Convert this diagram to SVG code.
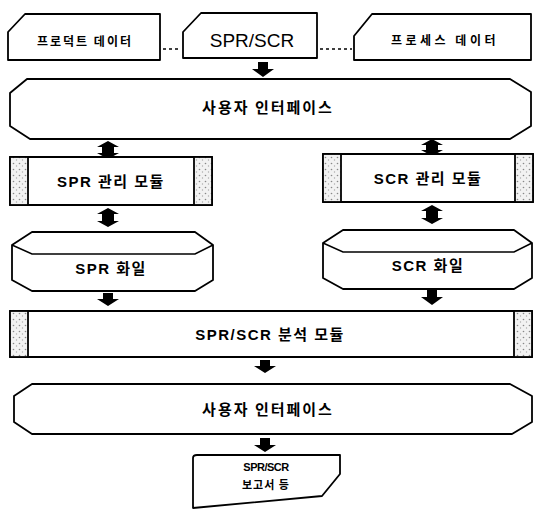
<svg xmlns="http://www.w3.org/2000/svg" width="539" height="510" viewBox="0 0 539 510">
<defs>
<pattern id="hatch" width="6" height="6" patternUnits="userSpaceOnUse">
<rect width="6" height="6" fill="#f2f2f2"/>
<circle cx="1.5" cy="1.5" r="0.8" fill="#888"/>
<circle cx="4.5" cy="4" r="0.7" fill="#aaa"/>
</pattern>
</defs>
<style>
.box{fill:#fff;stroke:#000;stroke-width:1.8;stroke-linejoin:round}
.panel{fill:url(#hatch);stroke:#000;stroke-width:1.8}
.ln{fill:none;stroke:#000;stroke-width:1.5}
.dash{fill:none;stroke:#000;stroke-width:1.3;stroke-dasharray:3 3}
.arr{fill:#000;stroke:none}
.t{font-family:"Liberation Sans","Noto Sans CJK KR",sans-serif;font-weight:bold;fill:#000;text-anchor:middle}
.k{font-family:"Noto Sans CJK KR","Liberation Sans",sans-serif;font-weight:bold;fill:#000;text-anchor:middle}
</style>
<rect width="539" height="510" fill="#fff"/>

<g id="connectors">
<line class="dash" x1="163" y1="49" x2="181" y2="49"/>
<line class="dash" x1="320" y1="49" x2="352" y2="49"/>
<path class="arr" d="M258,62 h10 v7 h6 l-11,8 l-11,-8 h6 z"/>
<path class="arr" d="M108,141 l11,6 h-5 v6 h5 l-11,6 l-11,-6 h5 v-6 h-5 z"/>
<path class="arr" d="M432,139 l11,6 h-5 v5 h5 l-11,6 l-11,-6 h5 v-5 h-5 z"/>
<path class="arr" d="M108,208 l11,6 h-5 v7 h5 l-11,6 l-11,-6 h5 v-7 h-5 z"/>
<path class="arr" d="M432,205 l11,6 h-5 v7 h5 l-11,6 l-11,-6 h5 v-7 h-5 z"/>
<path class="arr" d="M103,293 h10 v6 h6 l-11,7 l-11,-7 h6 z"/>
<path class="arr" d="M427,290 h10 v7 h6 l-11,8 l-11,-8 h6 z"/>
<path class="arr" d="M260,360 h10 v6 h6 l-11,7 l-11,-7 h6 z"/>
<path class="arr" d="M260,438 h10 v7 h6 l-11,7 l-11,-7 h6 z"/>
</g>

<g id="product-data">
<path class="box" d="M8,32 L25,14 H160 V60 H8 Z"/>
<text class="k" x="85" y="46" font-size="12" letter-spacing="2">프로덕트 데이터</text>
</g>
<g id="spr-scr">
<path class="box" d="M183,32 L201,13 H317 V58 H183 Z"/>
<text class="t" x="252" y="47" font-size="19" style="font-weight:normal">SPR/SCR</text>
</g>
<g id="process-data">
<path class="box" d="M354,36 L372,14 H531 V60 H354 Z"/>
<text class="k" x="445" y="45" font-size="12" letter-spacing="3.5">프로세스 데이터</text>
</g>

<g id="ui1">
<path class="box" d="M27,79 H510 L531,92 V126 L510,139 H30 L10,126 V93 Z"/>
<text class="k" x="268" y="113" font-size="15" letter-spacing="2">사용자 인터페이스</text>
</g>

<g id="spr-module">
<rect class="box" x="10" y="157" width="202" height="48"/>
<rect class="panel" x="10" y="157" width="18" height="48"/>
<rect class="panel" x="194" y="157" width="18" height="48"/>
<text class="t" x="111" y="187" font-size="15" letter-spacing="1.5">SPR 관리 모듈</text>
</g>
<g id="scr-module">
<rect class="box" x="323" y="154" width="210" height="48"/>
<rect class="panel" x="323" y="154" width="18" height="48"/>
<rect class="panel" x="515" y="154" width="18" height="48"/>
<text class="t" x="428" y="184" font-size="15" letter-spacing="1.5">SCR 관리 모듈</text>
</g>

<g id="spr-file">
<path class="box" d="M12,245 L32,232 H195 L213,245 V280 L195,291 H32 L12,280 Z"/>
<path class="ln" d="M12,245 L32,254 H195 L213,245"/>
<text class="t" x="111" y="274" font-size="15" letter-spacing="1.5">SPR 화일</text>
</g>
<g id="scr-file">
<path class="box" d="M323,243 L343,230 H514 L532,243 V278 L514,289 H343 L323,278 Z"/>
<path class="ln" d="M323,243 L343,252 H514 L532,243"/>
<text class="t" x="428" y="271" font-size="15" letter-spacing="1.5">SCR 화일</text>
</g>

<g id="analysis-module">
<rect class="box" x="10" y="311" width="522" height="46"/>
<rect class="panel" x="10" y="311" width="18" height="46"/>
<rect class="panel" x="514" y="311" width="18" height="46"/>
<text class="t" x="270" y="340" font-size="15" letter-spacing="1.5">SPR/SCR 분석 모듈</text>
</g>

<g id="ui2">
<path class="box" d="M32,384 H510 L532,396 V422 L512,434 H32 L14,422 V396 Z"/>
<text class="k" x="268" y="415" font-size="15" letter-spacing="2">사용자 인터페이스</text>
</g>

<g id="report">
<path class="box" d="M193,458 Q193,455 197,455 H340 V474 L322,496 L193,508 Z"/>
<text class="t" x="266" y="471" font-size="11" letter-spacing="-0.5">SPR/SCR</text>
<text class="k" x="266" y="489" font-size="11" letter-spacing="1">보고서 등</text>
</g>
</svg>
